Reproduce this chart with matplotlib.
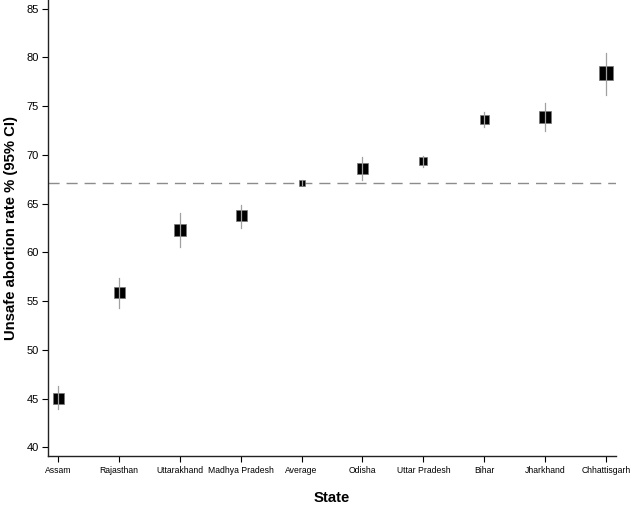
import matplotlib
matplotlib.use("Agg")
import matplotlib.pyplot as plt

plt.rcParams['font.family'] = ['Liberation Sans', 'DejaVu Sans']

# states, point estimates and 95% CI
states = ["Assam", "Rajasthan", "Uttarakhand", "Madhya Pradesh", "Average",
          "Odisha", "Uttar Pradesh", "Bihar", "Jharkhand", "Chhattisgarh"]
rate = [45.1, 55.9, 62.3, 63.8, 67.15, 68.7, 69.4, 73.7, 73.9, 78.4]
ci_low = [43.9, 54.3, 60.5, 62.5, 66.9, 67.4, 68.8, 72.9, 72.5, 76.1]
ci_high = [46.3, 57.4, 64.0, 64.9, 67.4, 69.8, 69.9, 74.4, 75.3, 80.5]
box_px = [11, 11, 12, 11, 6.5, 11, 8, 9, 11.5, 14]  # marker size (weight)
avg_line = 67.1

fig = plt.figure(figsize=(6.31, 5.07), dpi=100)
ax = fig.add_axes([0.076, 0.1006, 0.9, 0.8994])

x = list(range(1, len(states) + 1))

ax.axhline(avg_line, color="#8c8c8c", lw=1.0, dashes=(8, 5), zorder=1)

for xi, r, lo, hi, s in zip(x, rate, ci_low, ci_high, box_px):
    ax.plot([xi], [r], marker="s", ms=s * 0.72, color="black",
            mec="#777777", mew=0.5, ls="none", zorder=2)
    ax.plot([xi, xi], [lo, hi], color="#a0a0a0", lw=0.9, zorder=3)

ax.set_xlim(0.836, 10.16)
ax.set_ylim(39.1, 85.9)
ax.set_yticks([40, 45, 50, 55, 60, 65, 70, 75, 80, 85])
ax.set_xticks(x)
ax.set_xticklabels(states, fontsize=6.2)
ax.tick_params(axis="y", labelsize=8, length=4.5, width=0.8, pad=2)
ax.tick_params(axis="x", length=4.5, width=0.8, pad=3)

for side in ["top", "right"]:
    ax.spines[side].set_visible(False)
for side in ["left", "bottom"]:
    ax.spines[side].set_linewidth(1.0)
    ax.spines[side].set_color("#222222")

ax.set_ylabel("Unsafe abortion rate % (95% CI)", fontsize=10.7,
              fontweight="bold", labelpad=6)
ax.set_xlabel("State", fontsize=10.7, fontweight="bold", labelpad=11)

fig.savefig("out.png", dpi=100)
